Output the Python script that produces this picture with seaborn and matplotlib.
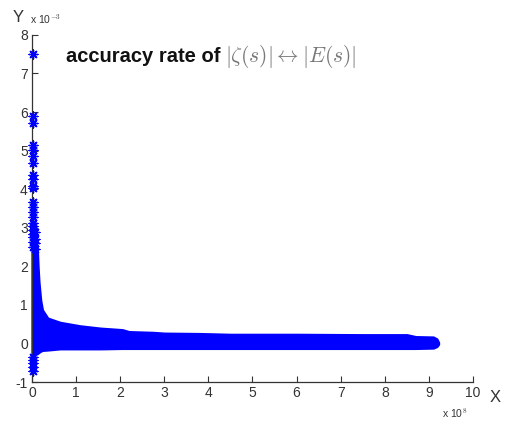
import numpy as np
import pandas as pd
import matplotlib
matplotlib.use("Agg")
import matplotlib.pyplot as plt
import seaborn as sns

# Envelope of the dense band of ratios (x in units of 1e8, y in units of 1e-3)
band_x = [0.00, 0.12, 0.14, 0.16, 0.20, 0.24, 0.36, 0.64, 1.09, 1.55, 2.05,
          2.20, 2.75, 3.00, 3.80, 4.50, 6.00, 7.50, 8.50, 8.70, 9.10, 9.18, 9.22]
band_upper = [2.55, 2.55, 2.00, 1.60, 1.12, 0.87, 0.66, 0.55, 0.46, 0.40, 0.36,
              0.31, 0.29, 0.27, 0.26, 0.24, 0.24, 0.23, 0.23, 0.18, 0.17, 0.12, 0.03]
band_lower = [-0.27, -0.27, -0.25, -0.23, -0.20, -0.18, -0.17, -0.14, -0.14, -0.14, -0.13,
              -0.13, -0.13, -0.13, -0.13, -0.13, -0.13, -0.13, -0.13, -0.13, -0.12, -0.08, -0.02]

# Isolated samples near the origin
spike_x = [0.03] * 22 + [0.07] * 4 + [0.02] * 5
spike_y = [2.62, 2.76, 2.85, 2.94, 3.05, 3.12, 3.27, 3.40, 3.53, 3.66, 4.03, 4.08,
           4.26, 4.38, 4.67, 4.85, 5.01, 5.14, 5.71, 5.90, 7.50, 2.50,
           2.45, 2.60, 2.72, 2.90,
           -0.36, -0.43, -0.51, -0.61, -0.70]

x_ticks = [0, 1, 2, 3, 4, 5, 6, 7, 8, 9, 10]
y_ticks = [-1, 0, 1, 2, 3, 4, 5, 6, 7, 8]

sns.set_style("ticks")
plt.rcParams["font.family"] = ["Liberation Sans", "DejaVu Sans"]
plt.rcParams["mathtext.fontset"] = "cm"

fig = plt.figure(figsize=(5.07, 4.25), dpi=100)
ax = fig.add_axes([0.063, 0.101, 0.870, 0.817])

blue = "#0000ff"
band = pd.DataFrame({"x": band_x, "upper": band_upper, "lower": band_lower})
ax.fill_between(band["x"], band["lower"], band["upper"], color=blue, linewidth=1.5,
                edgecolor=blue, zorder=2, clip_on=False)

spikes = pd.DataFrame({"x": spike_x, "y": spike_y})
sns.scatterplot(data=spikes, x="x", y="y", marker=(8, 2, 0), s=40, color=blue,
                linewidth=1.0, edgecolor=blue, ax=ax, zorder=3, clip_on=False)

ax.set_xlim(0, 10)
ax.set_ylim(-1, 8)
ax.set_xticks(x_ticks)
ax.set_yticks(y_ticks)
ax.set_xticklabels([str(v) for v in x_ticks])
ax.set_yticklabels([str(v) for v in y_ticks])
ax.set_xlabel("")
ax.set_ylabel("")
ax.tick_params(direction="in", length=4, width=0.8, labelsize=10, colors="#333333",
               pad=3)
for side in ("top", "right"):
    ax.spines[side].set_visible(False)
for side in ("left", "bottom"):
    ax.spines[side].set_color("#333333")
    ax.spines[side].set_linewidth(0.9)

# Axis names and exponent multipliers
fig.text(13 / 507, 1 - 17 / 425, "Y", fontsize=12, color="#333333", ha="left", va="center")
fig.text(30 / 507, 1 - 19 / 425, r"x 10$^{-3}$", fontsize=7.5, color="#333333",
         ha="left", va="center")
fig.text(490 / 507, 1 - 397 / 425, "X", fontsize=12, color="#333333", ha="left", va="center")
fig.text(442 / 507, 1 - 413 / 425, r"x 10$^{8}$", fontsize=7.5, color="#333333",
         ha="left", va="center")

# Title inside the axes
fig.text(66 / 507, 1 - 56 / 425, "accuracy rate of", fontsize=14.5, fontweight="bold",
         color="#111111", ha="left", va="center")
fig.text(225 / 507, 1 - 56 / 425, r"$|\zeta(s)|\leftrightarrow|E(s)|$", fontsize=15.5,
         color="#777777", ha="left", va="center")

fig.savefig("out.png", dpi=100)
